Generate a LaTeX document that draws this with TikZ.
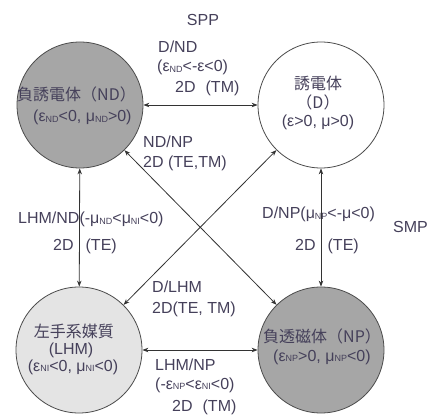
\documentclass[tikz,border=0pt]{standalone}
\usepackage{fontspec}
\setmainfont{Liberation Sans}
\newfontfamily\cjk{Noto Sans CJK JP}
\usetikzlibrary{arrows.meta}
\definecolor{txt}{HTML}{45405A}
\definecolor{darkfill}{HTML}{A6A6A6}
\definecolor{lightfill}{HTML}{E4E4E4}
\newcommand\lsub[1]{\raisebox{-0.5pt}{\fontsize{9}{9}\selectfont #1}}
\begin{document}
\begin{tikzpicture}[x=1pt,y=-1pt,
  state/.style={circle,draw=black!70,line width=0.8pt,minimum size=126pt,inner sep=0pt},
  lbl/.style={anchor=base west,inner sep=0pt,text=txt,font=\fontsize{16}{19}\selectfont},
  clbl/.style={lbl,anchor=base},
  link/.style={draw=black!80,line width=0.8pt,{Stealth[length=6pt,width=4.5pt]}-{Stealth[length=6pt,width=4.5pt]}}
]
\useasboundingbox (0,0) rectangle (437,417);
% circles
\node[state,fill=darkfill] (nd) at (80,105) {};
\node[state,fill=white] (d) at (321,105) {};
\node[state,fill=lightfill] (lhm) at (79,350) {};
\node[state,fill=darkfill] (np) at (321,350) {};
% connectors
\draw[link] (nd) -- (d);
\draw[link] (nd) -- (lhm);
\draw[link] (d) -- (np);
\draw[link] (lhm) -- (np);
\draw[link] (nd) -- (np);
\draw[link] (d) -- (lhm);
% circle texts
\node[lbl] (t1) at (17,101) {\cjk 負誘電体（ND）};
\node[lbl] (t2) at (33,122) {(ε\lsub{ND}<0, μ\lsub{ND}>0)};
\node[clbl] (t3) at (318,90) {\cjk 誘電体};
\node[clbl] (t4) at (318,109) {\cjk （D）};
\node[clbl] (t5) at (318,127) {(ε>0, μ>0)};
\node[clbl] (t6) at (74,337) {\cjk 左手系媒質};
\node[clbl] (t7) at (71,354) {(LHM)};
\node[clbl] (t8) at (73,371) {(ε\lsub{NI}<0, μ\lsub{NI}<0)};
\node[lbl] (t9) at (263,342) {\cjk 負透磁体（NP）};
\node[lbl] (t10) at (273,361) {(ε\lsub{NP}>0, μ\lsub{NP}<0)};
% connector labels
\node[clbl] (spp) at (203,26) {SPP};
\node[lbl] (a1) at (158,53) {D/ND};
\node[lbl] (a2) at (157,72) {(ε\lsub{ND}<-ε<0)};
\node[lbl] (a3) at (175,93) {2D\hspace{10pt}(TM)};
\node[lbl] (b1) at (143,148) {ND/NP};
\node[lbl] (b2) at (143,168) {2D (TE,TM)};
\node[lbl] (c1) at (18,224) {LHM/ND(-μ\lsub{ND}<μ\lsub{NI}<0)};
\node[lbl] (c2) at (53,251) {2D\hspace{12pt}(TE)};
\node[lbl] (e1) at (262,219) {D/NP(μ\lsub{NP}<-μ<0)};
\node[lbl] (smp) at (393,233) {SMP};
\node[lbl] (e2) at (295,251) {2D\hspace{12pt}(TE)};
\node[lbl] (f1) at (152,293) {D/LHM};
\node[lbl] (f2) at (152,313) {2D(TE, TM)};
\node[lbl] (g1) at (155,370) {LHM/NP};
\node[lbl] (g2) at (155,389) {(-ε\lsub{NP}<ε\lsub{NI}<0)};
\node[lbl] (g3) at (172,411) {2D\hspace{10pt}(TM)};
\end{tikzpicture}
\end{document}
